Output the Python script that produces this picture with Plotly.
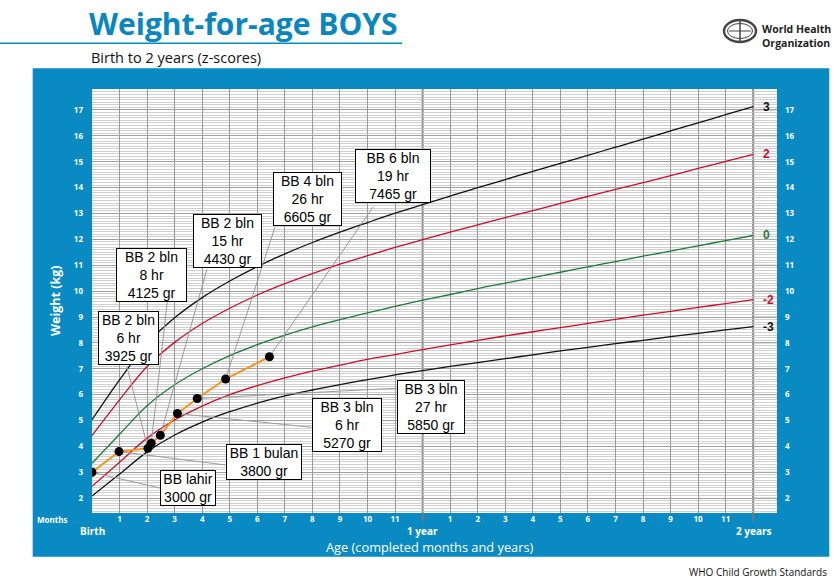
import plotly.graph_objects as go

# WHO weight-for-age, boys, birth to 2 years (kg), one value per completed month
months = list(range(25))
sd3neg = [2.08, 2.93, 3.79, 4.44, 4.94, 5.34, 5.67, 5.95, 6.18, 6.39, 6.58, 6.76, 6.93,
          7.09, 7.24, 7.39, 7.54, 7.69, 7.83, 7.97, 8.10, 8.24, 8.37, 8.50, 8.63]
sd2neg = [2.46, 3.39, 4.32, 5.02, 5.56, 6.00, 6.35, 6.65, 6.91, 7.14, 7.36, 7.55, 7.74,
          7.92, 8.10, 8.27, 8.43, 8.59, 8.75, 8.91, 9.07, 9.22, 9.37, 9.52, 9.67]
sd0 = [3.35, 4.47, 5.57, 6.38, 7.00, 7.51, 7.93, 8.30, 8.62, 8.90, 9.16, 9.41, 9.65,
       9.87, 10.10, 10.31, 10.52, 10.73, 10.94, 11.14, 11.35, 11.55, 11.75, 11.95, 12.15]
sd2 = [4.42, 5.80, 7.09, 8.02, 8.75, 9.34, 9.85, 10.29, 10.68, 11.04, 11.37, 11.69, 11.99,
       12.28, 12.56, 12.84, 13.11, 13.39, 13.66, 13.93, 14.19, 14.46, 14.74, 15.01, 15.28]
sd3 = [5.03, 6.57, 7.97, 8.97, 9.75, 10.39, 10.95, 11.44, 11.88, 12.28, 12.65, 13.01, 13.34,
       13.67, 14.00, 14.31, 14.63, 14.94, 15.25, 15.56, 15.87, 16.19, 16.50, 16.82, 17.13]

z_labels = ["3", "2", "0", "-2", "-3"]

# the child's measurements (age in months, weight in kg)
child_age = [0, 0.98, 2.03, 2.15, 2.48, 3.1, 3.82, 4.85, 6.44]
child_weight = [3.0, 3.8, 3.925, 4.125, 4.43, 5.27, 5.85, 6.605, 7.465]
child_notes = [
    "BB lahir<br>3000 gr",
    "BB 1 bulan<br>3800 gr",
    "BB 2 bln<br>6 hr<br>3925 gr",
    "BB 2 bln<br>8 hr<br>4125 gr",
    "BB 2 bln<br>15 hr<br>4430 gr",
    "BB 3 bln<br>6 hr<br>5270 gr",
    "BB 3 bln<br>27 hr<br>5850 gr",
    "BB 4 bln<br>26 hr<br>6605 gr",
    "BB 6 bln<br>19 hr<br>7465 gr",
]

month_ticks = list(range(25))
month_text = [""] + [str(i) for i in range(1, 12)] + [""] + [str(i) for i in range(1, 12)] + [""]
kg_ticks = list(range(2, 18))

# page geometry (pixels)
W, H = 835, 588
L, R, T, B = 92, 58, 89, 75
PW, PH = W - L - R, H - T - B
X_MAX = PW / 27.55
Y_MIN = 1.427
Y_MAX = Y_MIN + PH / 25.88

BLUE = "#0a8ac2"
RED = "#c8102e"
GREEN = "#1e7b3a"
ORANGE = "#f7941d"
TXT = "Open Sans"
BOX = "Liberation Sans, Arial"


def px(x):
    return (x - L) / PW


def py(y):
    return (H - B - y) / PH


fig = go.Figure()

curves = [(sd3, "#111111"), (sd2, RED), (sd0, GREEN), (sd2neg, RED), (sd3neg, "#111111")]
for vals, col in curves:
    fig.add_trace(go.Scatter(x=months, y=vals, mode="lines",
                             line=dict(color=col, width=1.3, shape="spline", smoothing=1),
                             hoverinfo="skip", showlegend=False))

# connectors from each note box edge to its point (box edge in month / kg)
attach = [(2.47, 2.39), (4.86, 3.28), (1.26, 7.11), (2.73, 9.57), (4.17, 10.84),
          (7.97, 4.74), (11.06, 6.25), (6.64, 12.47), (10.21, 13.26)]
cx_, cy_ = [], []
for (ax, ay), xa, ya in zip(attach, child_age, child_weight):
    cx_ += [xa, ax, None]
    cy_ += [ya, ay, None]
fig.add_trace(go.Scatter(x=cx_, y=cy_, mode="lines", line=dict(color="#9a9a9a", width=1),
                         hoverinfo="skip", showlegend=False))

fig.add_trace(go.Scatter(x=child_age, y=child_weight, mode="lines+markers",
                         line=dict(color=ORANGE, width=2),
                         marker=dict(color="black", size=9),
                         showlegend=False))

# dummy trace so the right-hand axis is drawn
fig.add_trace(go.Scatter(x=[months[-1]], y=[sd3[-1]], yaxis="y2", mode="markers",
                         marker=dict(opacity=0), hoverinfo="skip", showlegend=False))

shapes = []
# blue panel, then the white plotting area on top of it
shapes.append(dict(type="rect", xref="paper", yref="paper",
                   x0=px(32.7), x1=px(829.3), y0=py(556.7), y1=py(68.3),
                   fillcolor=BLUE, line=dict(width=0), layer="below"))
shapes.append(dict(type="rect", xref="paper", yref="paper", x0=0, x1=1, y0=0, y1=1,
                   fillcolor="white", line=dict(width=0), layer="below"))
# white strip after 2 years, only whole-kg lines
shapes.append(dict(type="rect", xref="x", yref="paper", x0=24, x1=X_MAX, y0=0, y1=1,
                   fillcolor="white", line=dict(width=0), layer="between"))
for k in kg_ticks:
    shapes.append(dict(type="line", xref="x", yref="y", x0=24, x1=X_MAX, y0=k, y1=k,
                       line=dict(color="#a8a8a8", width=1), layer="between"))
# year lines
for yr in (12, 24):
    shapes.append(dict(type="line", xref="x", yref="paper", x0=yr, x1=yr, y0=py(521), y1=1,
                       line=dict(color="#777777", width=2), layer="between"))
# title rule
shapes.append(dict(type="line", xref="paper", yref="paper", x0=px(0), x1=px(402),
                   y0=py(43.3), y1=py(43.3), line=dict(color=BLUE, width=1.5)))
# WHO emblem (rough)
ex, ey = 740, 31
for r, w in ((11, 2.4), (7.5, 1)):
    shapes.append(dict(type="circle", xref="paper", yref="paper",
                       x0=px(ex - r - 5), x1=px(ex + r + 5), y0=py(ey + r), y1=py(ey - r),
                       line=dict(color="#444444", width=w)))
shapes.append(dict(type="line", xref="paper", yref="paper", x0=px(ex - 11), x1=px(ex + 11),
                   y0=py(ey), y1=py(ey), line=dict(color="#444444", width=1)))
shapes.append(dict(type="line", xref="paper", yref="paper", x0=px(ex), x1=px(ex),
                   y0=py(ey - 10), y1=py(ey + 10), line=dict(color="#444444", width=1.5)))

annotations = []

# note boxes: centre (month, kg) and outer width in px
box_pos = [(3.48, 2.38, 56), (6.24, 3.38, 76), (1.31, 8.19, 61), (2.15, 10.64, 71),
           (4.9, 11.94, 69), (9.25, 4.82, 70), (12.29, 5.54, 68), (7.81, 13.57, 69),
           (10.91, 14.43, 76)]
for (bx, by, bw), note in zip(box_pos, child_notes):
    annotations.append(dict(x=bx, y=by, xref="x", yref="y", text=note, showarrow=False,
                            width=bw - 2, bgcolor="white", bordercolor="black",
                            borderwidth=1, borderpad=0,
                            font=dict(family=BOX, size=14, color="black")))

# z-score labels at the end of each curve
label_cols = ["#111111", RED, GREEN, RED, "#111111"]
for (vals, _), lab, col in zip(curves, z_labels, label_cols):
    annotations.append(dict(x=24.28, y=vals[-1], xref="x", yref="y", text="<b>%s</b>" % lab,
                            xanchor="left", yanchor="middle", showarrow=False,
                            font=dict(family=BOX, size=12, color=col)))

# age row under the month ticks
for m, lab in ((0, "Birth"), (12, "1 year"), (24, "2 years")):
    annotations.append(dict(x=m, y=py(531), xref="x", yref="paper", text="<b>%s</b>" % lab,
                            showarrow=False, xanchor="center", yanchor="middle",
                            font=dict(family=TXT, size=10, color="white")))


def page_text(x, y, text, size, color, anchor="left", **kw):
    annotations.append(dict(x=px(x), y=py(y), xref="paper", yref="paper", text=text,
                            showarrow=False, xanchor=anchor, yanchor="middle",
                            font=dict(family=TXT, size=size, color=color), **kw))


page_text(87, 24, "<b>Weight-for-age BOYS</b>", 30, "#0a86be")
page_text(89, 58, "Birth to 2 years (z-scores)", 14.5, "#111111")
page_text(760, 36, "<b>World Health<br>Organization</b>", 10.5, "#222222", align="left")
page_text(829, 572, "WHO Child Growth Standards", 10, "#111111", anchor="right")
page_text(52, 519, "<b>Months</b>", 8, "white", anchor="center")
page_text(430, 547, "Age (completed months and years)", 12.8, "white", anchor="center")
page_text(55, 301, "<b>Weight (kg)</b>", 12.5, "white", anchor="center", textangle=-90)

tickfont = dict(family=TXT, size=8, color="white", weight="bold")

fig.update_layout(
    width=W, height=H,
    margin=dict(l=L, r=R, t=T, b=B, pad=0),
    paper_bgcolor="white",
    plot_bgcolor="white",
    showlegend=False,
    xaxis=dict(range=[0, X_MAX], tickmode="array", tickvals=month_ticks, ticktext=month_text,
               showgrid=True, gridcolor="#9a9a9a", gridwidth=1, zeroline=False,
               showline=False, ticks="", tickfont=tickfont, fixedrange=True),
    yaxis=dict(range=[Y_MIN, Y_MAX], tickmode="linear", tick0=0, dtick=1,
               showgrid=True, gridcolor="#a0a0a0", gridwidth=1,
               minor=dict(tick0=0, dtick=0.1, showgrid=True, gridcolor="#d0d0d0", gridwidth=1),
               zeroline=False, showline=False, ticks="", ticklabelstandoff=8,
               tickfont=tickfont, fixedrange=True),
    yaxis2=dict(range=[Y_MIN, Y_MAX], overlaying="y", side="right", tickmode="linear",
                tick0=0, dtick=1, showgrid=False, zeroline=False, showline=False,
                ticks="", ticklabelstandoff=7, tickfont=tickfont, fixedrange=True),
    shapes=shapes,
    annotations=annotations,
)

fig.write_html("out.html", config={"displayModeBar": False},
               post_script="document.body.style.margin='0';")
